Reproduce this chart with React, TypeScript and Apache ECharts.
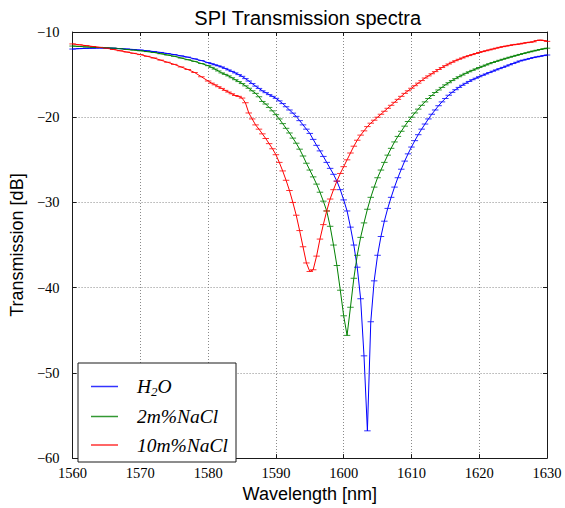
import React, { useEffect, useRef } from "react";
import * as echarts from "echarts";

const wavelength = [
  1560, 1561, 1562, 1563, 1564, 1565, 1566, 1567, 1568, 1569, 1570, 1571, 1572, 1573, 1574, 1575, 1576, 1577, 1578, 1579, 1580,
  1580.5, 1581, 1581.5, 1582, 1582.5, 1583, 1583.5, 1584, 1584.5, 1585, 1585.5, 1586, 1586.5, 1587, 1587.5, 1588, 1588.5, 1589, 1589.5, 1590,
  1590.5, 1591, 1591.5, 1592, 1592.5, 1593, 1593.5, 1594, 1594.5, 1595, 1595.5, 1596, 1596.5, 1597, 1597.5, 1598, 1598.5, 1599, 1599.5, 1600,
  1600.5, 1601, 1601.5, 1602, 1602.5, 1603, 1603.5, 1604, 1604.5, 1605, 1605.5, 1606, 1606.5, 1607, 1607.5, 1608, 1608.5, 1609, 1609.5, 1610,
  1610.5, 1611, 1611.5, 1612, 1612.5, 1613, 1613.5, 1614, 1614.5, 1615, 1615.5, 1616, 1616.5, 1617, 1617.5, 1618, 1618.5, 1619, 1619.5, 1620,
  1620.5, 1621, 1621.5, 1622, 1622.5, 1623, 1623.5, 1624, 1624.5, 1625, 1625.5, 1626, 1626.5, 1627, 1627.5, 1628, 1628.5, 1629, 1629.5, 1630,
];

const h2o = [
  -12.0, -11.95, -11.92, -11.9, -11.88, -11.88, -11.9, -11.95, -12.0, -12.05, -12.12, -12.2, -12.3, -12.4, -12.52, -12.65, -12.8, -12.95, -13.15, -13.35, -13.6,
  -13.72, -13.85, -13.97, -14.1, -14.27, -14.45, -14.62, -14.8, -15.0, -15.2, -15.47, -15.75, -16.05, -16.35, -16.62, -16.9, -17.12, -17.35, -17.55, -17.78,
  -18.08, -18.4, -18.77, -19.15, -19.52, -19.9, -20.4, -20.9, -21.4, -21.9, -22.6, -23.3, -23.95, -24.6, -25.3, -26.0, -26.7, -27.5, -28.5, -29.7,
  -31.0, -32.9, -35.0, -37.6, -41.3, -48.0, -56.8, -44.0, -39.2, -36.2, -34.0, -32.2, -30.7, -29.4, -28.2, -27.1, -26.1, -25.15, -24.3, -23.5,
  -22.75, -22.05, -21.4, -20.8, -20.2, -19.65, -19.15, -18.65, -18.2, -17.8, -17.42, -17.08, -16.77, -16.5, -16.25, -16.02, -15.8, -15.6, -15.42, -15.25,
  -15.08, -14.92, -14.76, -14.6, -14.45, -14.3, -14.15, -14.0, -13.85, -13.7, -13.55, -13.4, -13.3, -13.2, -13.1, -13.0, -12.92, -12.85, -12.77, -12.7,
];

const nacl2 = [
  -11.65, -11.7, -11.75, -11.8, -11.82, -11.85, -11.9, -11.95, -12.05, -12.12, -12.2, -12.3, -12.4, -12.55, -12.7, -12.85, -13.05, -13.25, -13.45, -13.7, -13.95,
  -14.15, -14.35, -14.57, -14.8, -14.97, -15.15, -15.37, -15.6, -15.82, -16.05, -16.32, -16.6, -16.9, -17.2, -17.6, -18.15, -18.45, -18.85, -19.25, -19.7,
  -20.2, -20.75, -21.3, -21.85, -22.45, -23.05, -23.75, -24.55, -25.4, -26.2, -27.0, -27.85, -28.8, -29.85, -31.0, -32.8, -35.0, -37.4, -40.3, -43.3,
  -45.6, -42.3, -38.9, -36.2, -34.1, -32.4, -30.8, -29.4, -28.2, -27.1, -26.2, -25.3, -24.45, -23.65, -22.9, -22.25, -21.65, -21.05, -20.5, -20.0,
  -19.5, -19.05, -18.6, -18.2, -17.8, -17.45, -17.1, -16.8, -16.5, -16.2, -15.95, -15.7, -15.47, -15.25, -15.05, -14.85, -14.67, -14.5, -14.33, -14.17,
  -14.02, -13.87, -13.72, -13.58, -13.45, -13.32, -13.2, -13.08, -12.96, -12.85, -12.74, -12.63, -12.53, -12.43, -12.33, -12.23, -12.14, -12.05, -11.97, -11.9,
];

const nacl10 = [
  -11.4, -11.5, -11.6, -11.7, -11.8, -11.9, -12.05, -12.2, -12.35, -12.5, -12.65, -12.85, -13.05, -13.3, -13.55, -13.8, -14.1, -14.4, -14.75, -15.25, -15.75,
  -16.0, -16.2, -16.42, -16.62, -16.85, -17.05, -17.25, -17.45, -17.55, -17.75, -18.3, -19.5, -20.2, -20.9, -21.4, -21.95, -22.5, -23.1, -23.7, -24.4,
  -25.3, -26.3, -27.4, -28.6, -30.0, -31.5, -33.3, -35.2, -37.1, -38.1, -37.9, -36.3, -34.3, -32.6, -31.0, -29.6, -28.5, -27.5, -26.6, -25.8,
  -25.0, -24.2, -23.4, -22.7, -22.1, -21.6, -21.1, -20.7, -20.35, -20.0, -19.65, -19.3, -18.95, -18.6, -18.25, -17.9, -17.55, -17.2, -16.9, -16.6,
  -16.3, -16.0, -15.7, -15.4, -15.15, -14.9, -14.65, -14.4, -14.17, -13.95, -13.75, -13.55, -13.37, -13.2, -13.05, -12.9, -12.77, -12.65, -12.52, -12.4,
  -12.3, -12.2, -12.1, -12.0, -11.9, -11.8, -11.72, -11.65, -11.57, -11.5, -11.45, -11.4, -11.32, -11.25, -11.2, -11.15, -11.0, -10.95, -11.0, -11.1,
];

const seriesNames = ["H2O", "2m%NaCl", "10m%NaCl"];
const seriesColors = ["#0000ff", "#008000", "#ff0000"];
const seriesValues = [h2o, nacl2, nacl10];

const X_MIN = 1560;
const X_MAX = 1630;
const Y_MIN = -60;
const Y_MAX = -10;
const STEP = 10;

const legendLabels: Record<string, string> = {
  "H2O": "{i|H}{s|2}{i|O}",
  "2m%NaCl": "{i|2m%NaCl}",
  "10m%NaCl": "{i|10m%NaCl}",
};

export default function App() {
  const ref = useRef<HTMLDivElement>(null);
  useEffect(() => {
    if (!ref.current) return;
    const chart = echarts.init(ref.current, null, { renderer: "svg" });
    const tickFont = { fontFamily: "Liberation Serif", fontSize: 14.5, color: "#000" };
    const frameLine = { show: true, lineStyle: { color: "#1a1a1a", width: 1 } };
    const tick = { show: true, inside: true, length: 4, lineStyle: { color: "#1a1a1a", width: 1 } };
    const gridLine = { show: true, lineStyle: { color: "#8a8a8a", width: 1, type: [1, 2] as any } };
    const fmtY = (v: number) => (v < 0 ? "\u2212" + Math.abs(v) : String(v));
    const fmtX = (v: number) => String(v);

    chart.setOption({
      animation: false,
      backgroundColor: "#ffffff",
      grid: { left: 68.5, right: 18, top: 32, bottom: 42, containLabel: false },
      graphic: [
        {
          type: "text",
          x: 307.7,
          y: 18,
          style: {
            text: "SPI Transmission spectra",
            fontFamily: "Liberation Sans",
            fontSize: 20,
            fill: "#000",
            textAlign: "center",
            textVerticalAlign: "middle",
          },
        },
      ],
      xAxis: [
        {
          type: "value",
          min: X_MIN,
          max: X_MAX,
          interval: STEP,
          position: "bottom",
          name: "Wavelength [nm]",
          nameLocation: "middle",
          nameGap: 20,
          nameTextStyle: { fontFamily: "Liberation Sans", fontSize: 18, color: "#000", verticalAlign: "top" },
          axisLine: frameLine,
          axisTick: tick,
          axisLabel: { ...tickFont, margin: 7, formatter: fmtX },
          splitLine: gridLine,
        },
        {
          type: "value",
          min: X_MIN,
          max: X_MAX,
          interval: STEP,
          position: "top",
          axisLine: frameLine,
          axisTick: tick,
          axisLabel: { show: false },
          splitLine: { show: false },
        },
      ],
      yAxis: [
        {
          type: "value",
          min: Y_MIN,
          max: Y_MAX,
          interval: STEP,
          position: "left",
          name: "Transmission [dB]",
          nameLocation: "middle",
          nameGap: 30,
          nameTextStyle: { fontFamily: "Liberation Sans", fontSize: 18, color: "#000" },
          axisLine: frameLine,
          axisTick: tick,
          axisLabel: { ...tickFont, margin: 13, formatter: fmtY },
          splitLine: gridLine,
        },
        {
          type: "value",
          min: Y_MIN,
          max: Y_MAX,
          interval: STEP,
          position: "right",
          axisLine: frameLine,
          axisTick: tick,
          axisLabel: { show: false },
          splitLine: { show: false },
        },
      ],
      legend: {
        data: seriesNames.map((n) => ({ name: n, icon: "rect" })),
        orient: "vertical",
        left: 78,
        top: 363,
        padding: [12, 8, 7, 13],
        itemWidth: 27,
        itemHeight: 1.5,
        itemGap: 8.5,
        backgroundColor: "#ffffff",
        borderColor: "#1a1a1a",
        borderWidth: 1,
        borderRadius: 0,
        formatter: (name: string) => legendLabels[name] || name,
        textStyle: {
          padding: [0, 0, 0, 14],
          rich: {
            i: { fontFamily: "Liberation Serif", fontStyle: "italic", fontSize: 19.5, color: "#000", lineHeight: 20 },
            s: { fontFamily: "Liberation Serif", fontStyle: "italic", fontSize: 13, color: "#000", padding: [10, 0, 0, 0], lineHeight: 20 },
          },
        },
      },
      series: seriesNames.map((name, k) => ({
        name,
        type: "line",
        xAxisIndex: 0,
        yAxisIndex: 0,
        data: wavelength.map((w, i) => [w, seriesValues[k][i]]),
        symbol: "rect",
        symbolSize: [6.5, 1],
        showSymbol: true,
        showAllSymbol: true,
        color: seriesColors[k],
        lineStyle: { color: seriesColors[k], width: 1 },
        itemStyle: { color: seriesColors[k], borderWidth: 0, opacity: 0.8 },
        emphasis: { disabled: true },
      })),
    });
    return () => chart.dispose();
  }, []);
  return (
    <div
      ref={ref}
      style={{ position: "fixed", left: 0, top: 0, width: 565, height: 508, background: "#fff" }}
    />
  );
}
